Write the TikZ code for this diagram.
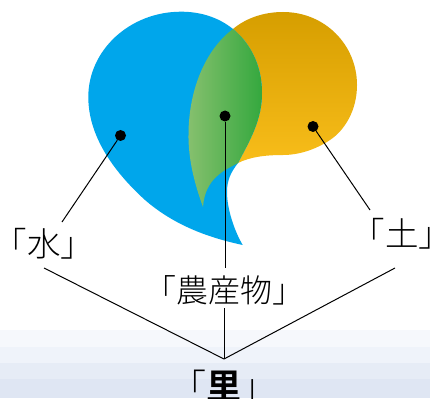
\documentclass[tikz,border=0pt]{standalone}
\usepackage{fontspec}
\newfontfamily\cjk{Noto Sans CJK JP Light}
\newfontfamily\cjkbold{Noto Sans CJK JP Bold}
\begin{document}
\begin{tikzpicture}[x=1pt,y=-1pt,
  dot/.style={circle,fill=black,inner sep=0pt,minimum size=11pt},
  lbl/.style={inner sep=0pt,font=\cjk\fontsize{32}{34}\selectfont,text=black},
  biglbl/.style={lbl,font=\cjk\fontsize{33.5}{36}\selectfont},
  conn/.style={draw=black,line width=1pt}]
\useasboundingbox (0,0) rectangle (430,398);
\fill[white] (0,0) rectangle (430,398);
\definecolor{bandA}{HTML}{F6F8FC}
\definecolor{bandB}{HTML}{EFF3FA}
\definecolor{bandC}{HTML}{E6ECF6}
\definecolor{bandD}{HTML}{DFE6F3}
\definecolor{wblue}{HTML}{00A6EB}
\definecolor{soilTop}{HTML}{D69E00}
\definecolor{soilBot}{HTML}{F8BD1A}
\definecolor{leafL}{HTML}{86C06E}
\definecolor{leafR}{HTML}{34A83E}
\fill[bandA] (0,330) rectangle (430,347);
\fill[bandB] (0,347) rectangle (430,363);
\fill[bandC] (0,363) rectangle (430,379);
\fill[bandD] (0,379) rectangle (430,398);
% soil
\path[top color=soilTop,bottom color=soilBot]
  (233,29) .. controls (246,18) and (264,12) .. (283,12)
  .. controls (325,12) and (357,45) .. (357,85)
  .. controls (357,110) and (345,130) .. (330,140)
  .. controls (315,150) and (298,155) .. (283,155)
  .. controls (265,155) and (250,157) .. (238,163)
  .. controls (250,140) and (262,120) .. (262,93)
  .. controls (262,65) and (250,43) .. (233,29) -- cycle;
% water
\fill[wblue]
  (233,29) .. controls (218,17) and (200,11.7) .. (181,11.7)
  .. controls (130,11.7) and (88.3,50) .. (88.3,97)
  .. controls (88.3,135) and (112,170) .. (145,200)
  .. controls (175,226) and (210,238) .. (242.7,245)
  .. controls (235,232) and (227,210) .. (227,192)
  .. controls (227,180) and (231,172) .. (238,163)
  .. controls (250,140) and (262,120) .. (262,93)
  .. controls (262,65) and (250,43) .. (233,29) -- cycle;
% leaf
\path[left color=leafL,right color=leafR]
  (233,29) .. controls (250,43) and (262,65) .. (262,93)
  .. controls (262,120) and (250,140) .. (238,163)
  .. controls (225,170) and (205,178) .. (203,207)
  .. controls (195,185) and (188,160) .. (188.5,133)
  .. controls (189,90) and (205,50) .. (233,29) -- cycle;
\node[dot] (dw) at (120.5,135.5) {};
\node[dot] (dl) at (225,116) {};
\node[dot] (ds) at (313,126.5) {};
\node[biglbl] (lw) at (44,244) {「水」};
\node[biglbl] (ls) at (402,234) {「土」};
\node[lbl] (ll) at (224,290) {「農産物」};
\node[lbl,font=\cjk\fontsize{35}{37}\selectfont] (lr) at (224,386) {「{\cjkbold 里}」};
\coordinate (ew) at (62,222);
\coordinate (es) at (370,210);
\coordinate (el) at (225,268);
\coordinate (tw) at (44,268);
\coordinate (ts) at (395,268);
\coordinate (tl) at (224,308);
\coordinate (hub) at (224,359);
\draw[conn] (dw) -- (ew);
\draw[conn] (dl) -- (el);
\draw[conn] (ds) -- (es);
\draw[conn] (tw) -- (hub);
\draw[conn] (ts) -- (hub);
\draw[conn] (tl) -- (hub);
\end{tikzpicture}
\end{document}
